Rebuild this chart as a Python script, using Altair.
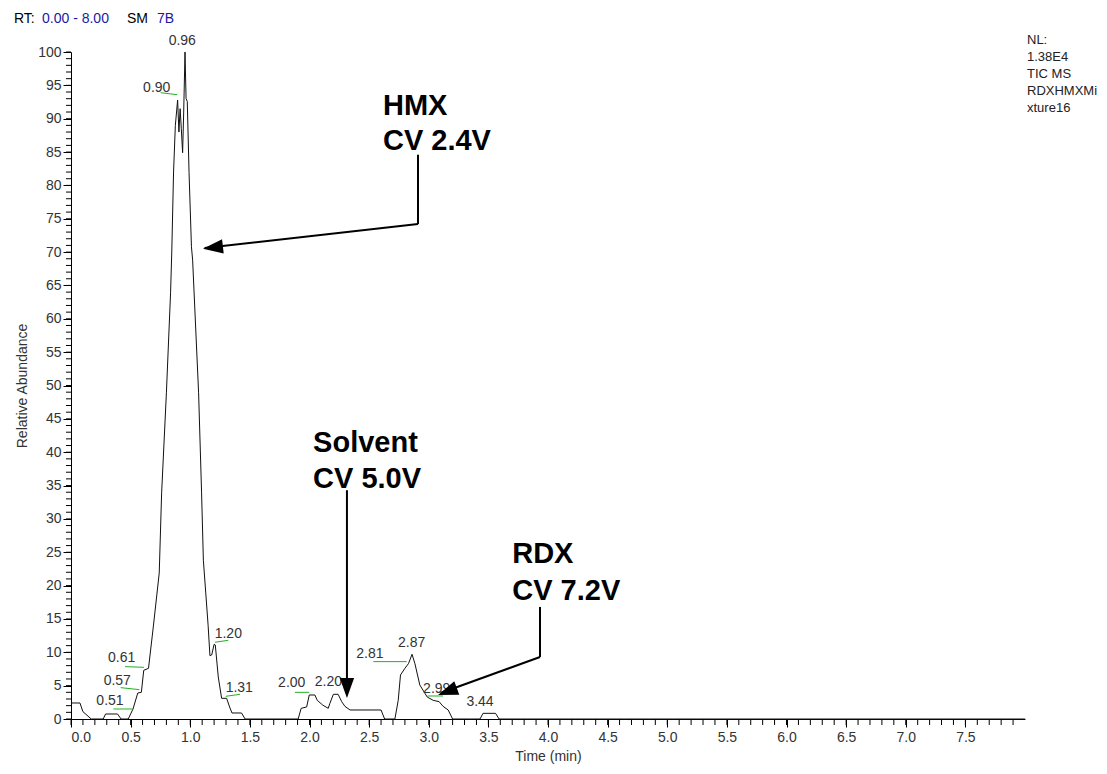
import altair as alt
import pandas as pd

FONT = "Liberation Sans"

# ---- chromatogram trace (time in min, relative abundance %) ----
trace_t = [0.00, 0.075, 0.10, 0.17, 0.27, 0.29, 0.39, 0.42, 0.48, 0.52, 0.56, 0.59, 0.61, 0.65,
           0.69, 0.74, 0.76, 0.80, 0.835, 0.845, 0.86, 0.875, 0.894, 0.905, 0.915, 0.925, 0.936,
           0.945, 0.956, 0.965, 0.975, 0.99, 1.01, 1.02, 1.07, 1.095, 1.11, 1.13, 1.15, 1.165,
           1.18, 1.20, 1.21, 1.235, 1.263, 1.305, 1.33, 1.35, 1.43, 1.46, 1.905, 1.93, 1.976,
           1.998, 2.045, 2.065, 2.11, 2.157, 2.17, 2.20, 2.24, 2.27, 2.297, 2.34, 2.60, 2.63,
           2.716, 2.744, 2.763, 2.80, 2.83, 2.86, 2.884, 2.925, 2.987, 3.037, 3.087, 3.12, 3.163,
           3.20, 3.43, 3.455, 3.56, 3.59, 8.00]
trace_a = [2.4, 2.4, 1.1, 0.0, 0.0, 0.75, 0.75, 0.0, 0.0, 1.5, 3.9, 4.0, 7.3, 7.6,
           13.8, 21.9, 33.9, 48.9, 63.9, 70.0, 82.0, 89.0, 92.8, 88.0, 91.5, 88.5, 84.9,
           91.0, 100.0, 93.0, 92.6, 81.9, 70.8, 68.8, 48.9, 33.9, 23.8, 18.9, 14.0, 9.5,
           9.6, 11.2, 11.1, 6.3, 3.1, 3.1, 1.8, 0.9, 0.9, 0.0, 0.0, 1.6, 1.8,
           3.6, 3.6, 2.8, 2.1, 1.6, 2.3, 3.7, 3.7, 2.6, 1.9, 1.35, 1.35, 0.0,
           0.0, 2.8, 6.6, 7.6, 8.3, 9.7, 8.3, 5.1, 3.3, 2.8, 2.6, 1.9, 1.35,
           0.0, 0.0, 0.85, 0.85, 0.0, 0.0]

# ---- peak retention-time labels ----
peak_text = ["0.96", "0.90", "0.61", "0.57", "0.51", "1.20", "1.31", "2.00", "2.20",
             "2.81", "2.87", "2.99", "3.44"]
peak_t = [0.933, 0.719, 0.425, 0.388, 0.327, 1.319, 1.411, 1.851, 2.158,
          2.507, 2.857, 3.067, 3.43]
peak_a = [101.7, 94.6, 9.1, 5.74, 2.7, 12.7, 4.7, 5.35, 5.6,
          9.75, 11.4, 4.45, 2.5]

# ---- green peak markers (segments) ----
mark_t1 = [0.752, 0.453, 0.417, 0.355, 1.207, 1.297, 1.878, 2.535, 2.99]
mark_t2 = [0.891, 0.612, 0.573, 0.517, 1.319, 1.417, 1.998, 2.815, 3.12]
mark_a1 = [93.9, 7.85, 4.7, 1.5, 11.5, 3.4, 4.0, 8.6, 3.45]
mark_a2 = [93.6, 7.75, 4.4, 1.5, 11.8, 3.7, 4.0, 8.6, 3.45]

# ---- bold annotations ----
annot_text = ["HMX", "CV 2.4V", "Solvent", "CV 5.0V", "RDX", "CV 7.2V"]
annot_t = [2.616, 2.616, 2.03, 2.03, 3.70, 3.70]
annot_a = [90.6, 85.3, 40.0, 34.6, 23.4, 17.8]

# ---- arrow shafts ----
arrow_t1 = [2.91, 2.91, 2.314, 3.933, 3.933]
arrow_a1 = [84.6, 74.2, 34.3, 16.8, 9.3]
arrow_t2 = [2.91, 1.12, 2.314, 3.933, 3.10]
arrow_a2 = [74.2, 70.6, 4.0, 9.3, 3.9]

# ---- arrow heads (tip position, direction) ----
head_t = [1.107, 2.314, 3.078]
head_a = [70.5, 3.15, 3.6]
head_angle = [263.4, 180.0, 249.6]

# ---- axis ticks ----
x_major = [0.0, 0.5, 1.0, 1.5, 2.0, 2.5, 3.0, 3.5, 4.0, 4.5, 5.0, 5.5, 6.0, 6.5, 7.0, 7.5]
x_minor = [round(i * 0.1, 1) for i in range(80)]
y_major = [0, 5, 10, 15, 20, 25, 30, 35, 40, 45, 50, 55, 60, 65, 70, 75, 80, 85, 90, 95, 100]
y_minor = list(range(0, 101))

# ---- header texts ----
header_parts = ["RT:", "0.00 - 8.00", "SM", "7B"]
header_colors = ["#000000", "#1a1aa6", "#000000", "#1a1aa6"]
info_lines = ["NL:", "1.38E4", "TIC  MS", "RDXHMXMi", "xture16"]

xs = alt.Scale(domain=[0, 8], nice=False, zero=False)
ys = alt.Scale(domain=[0, 100], nice=False)
x_axis = alt.Axis(values=x_major, format=".1f", tickSize=8, grid=False,
                  labelPadding=3, titlePadding=5)
y_axis = alt.Axis(values=y_major, tickSize=8, grid=False, labelPadding=2,
                  titlePadding=8)


def X(field):
    return alt.X(field, type="quantitative", scale=xs, axis=x_axis, title="Time (min)")


def Y(field):
    return alt.Y(field, type="quantitative", scale=ys, axis=y_axis, title="Relative Abundance")


trace_df = pd.DataFrame({"t": trace_t, "a": trace_a})
line = alt.Chart(trace_df).mark_line(color="#111111", strokeWidth=1, interpolate="linear").encode(
    x=X("t"), y=Y("a"), order=alt.Order("t:Q"),
)

xminor = alt.Chart(pd.DataFrame({"t": x_minor})).mark_rule(color="#000000", strokeWidth=1).encode(
    x=X("t"), y=alt.value(667), y2=alt.value(673),
)
yminor = alt.Chart(pd.DataFrame({"a": y_minor})).mark_rule(color="#000000", strokeWidth=1).encode(
    y=Y("a"), x=alt.value(-5), x2=alt.value(0),
)

markers = alt.Chart(pd.DataFrame({"t": mark_t1, "t2": mark_t2, "a": mark_a1, "a2": mark_a2})).mark_rule(
    color="#22b022", strokeWidth=1).encode(
    x=X("t"), x2="t2:Q", y=Y("a"), y2="a2:Q",
)

peaks = alt.Chart(pd.DataFrame({"t": peak_t, "a": peak_a, "s": peak_text})).mark_text(
    font=FONT, fontSize=14, color="#333333", align="center", baseline="middle").encode(
    x=X("t"), y=Y("a"), text="s:N",
)

annots = alt.Chart(pd.DataFrame({"t": annot_t, "a": annot_a, "s": annot_text})).mark_text(
    font=FONT, fontSize=29, fontWeight="bold", color="#000000", align="left",
    baseline="alphabetic").encode(
    x=X("t"), y=Y("a"), text="s:N",
)

arrows = alt.Chart(pd.DataFrame({"t": arrow_t1, "t2": arrow_t2, "a": arrow_a1, "a2": arrow_a2})).mark_rule(
    color="#000000", strokeWidth=2).encode(
    x=X("t"), x2="t2:Q", y=Y("a"), y2="a2:Q",
)

heads = alt.Chart(pd.DataFrame({"t": head_t, "a": head_a, "ang": head_angle})).mark_point(
    shape="M0,0 L-0.36,1 L0.36,1 Z", filled=True, color="#000000", opacity=1, size=1600,
    strokeWidth=0).encode(
    x=X("t"), y=Y("a"), angle=alt.Angle("ang:Q", scale=None),
)

header_x = [-57, -29, 56, 86]
header_layers = []
for txt, col, hx in zip(header_parts, header_colors, header_x):
    header_layers.append(
        alt.Chart(pd.DataFrame({"s": [txt]})).mark_text(
            font=FONT, fontSize=14, color=col, align="left", baseline="middle").encode(
            x=alt.value(hx), y=alt.value(-33), text="s:N")
    )

info_layers = []
for i, txt in enumerate(info_lines):
    info_layers.append(
        alt.Chart(pd.DataFrame({"s": [txt]})).mark_text(
            font=FONT, fontSize=13, color="#222222", align="left", baseline="middle").encode(
            x=alt.value(956), y=alt.value(-12 + 17 * i), text="s:N")
    )

chart = alt.layer(line, xminor, yminor, markers, peaks, annots, arrows, heads,
                  *header_layers, *info_layers).properties(
    width=954, height=667,
    padding={"left": 63, "top": 44, "right": 74, "bottom": 55},
    autosize=alt.AutoSizeParams(type="none"),
).configure_view(stroke=None).configure_axis(
    domainColor="#000000", tickColor="#000000", labelColor="#333333",
    labelFont=FONT, labelFontSize=14, titleFont=FONT, titleFontSize=14,
    titleFontWeight="normal", titleColor="#333333", domainWidth=1, tickWidth=1,
)

chart.save("out.html", embed_options={"renderer": "svg", "actions": False})
